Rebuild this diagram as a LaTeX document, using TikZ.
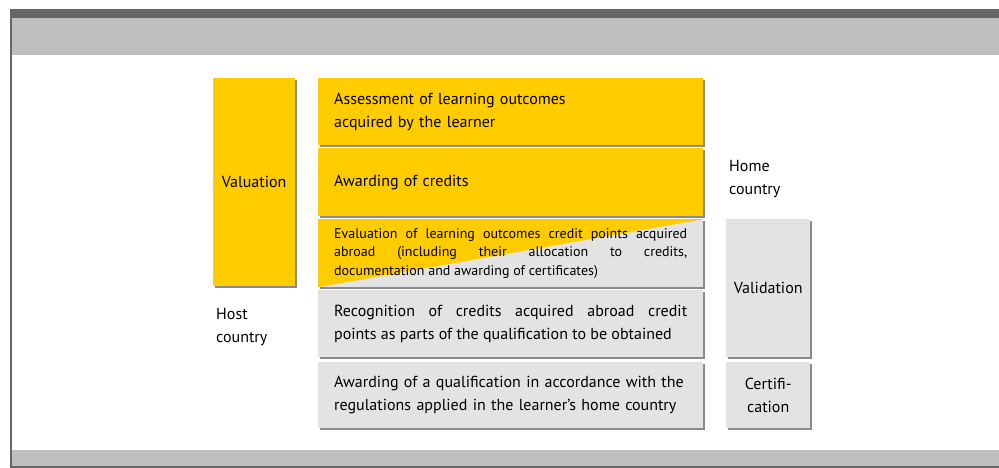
\documentclass[tikz,border=0pt]{standalone}
\usepackage{fontspec}
\setmainfont{PT Sans}
\usetikzlibrary{shadows}
\definecolor{valyellow}{HTML}{FFCC00}
\definecolor{boxgray}{HTML}{E3E3E3}
\definecolor{framedark}{HTML}{666666}
\definecolor{framelight}{HTML}{BFBFBF}
\definecolor{shadowgray}{HTML}{8A8A8A}
\tikzset{
  stagebox/.style={rectangle, anchor=north west, inner xsep=16pt, inner ysep=0pt,
    minimum width=385pt, text width=353pt,
    font=\fontsize{16}{23}\selectfont,
    drop shadow={shadow xshift=1.5pt, shadow yshift=-1.5pt, fill=shadowgray, opacity=1}},
  sidebox/.style={rectangle, anchor=north west, inner sep=0pt, align=center,
    minimum width=84pt, font=\fontsize{16}{23}\selectfont,
    drop shadow={shadow xshift=1.5pt, shadow yshift=-1.5pt, fill=shadowgray, opacity=1}},
  countrylabel/.style={anchor=west, inner sep=0pt, align=left, font=\fontsize{16}{23}\selectfont}
}
\begin{document}
\begin{tikzpicture}[x=1pt,y=-1pt]
\useasboundingbox (0,0) rectangle (999,468);

% frame
\fill[framedark] (10,9) rectangle (999,18);
\fill[framelight] (12,18) rectangle (999,55);
\fill[framedark] (10,9) rectangle (12,468);
\fill[framelight] (12,450) rectangle (999,466);
\fill[framedark] (10,466) rectangle (999,468);

% host country side
\node[sidebox, fill=valyellow, minimum width=82pt, minimum height=208pt] (valuation) at (213,78) {Valuation};
\node[countrylabel] (host) at (216,327) {Host\\country};

% steps
\node[stagebox, fill=valyellow, minimum height=67pt, align=left] (assess) at (318,78)
 {Assessment of learning outcomes\\acquired by the learner};
\node[stagebox, fill=valyellow, minimum height=68pt, align=left] (credits) at (318,148)
 {Awarding of credits};
\node[stagebox, fill=boxgray, minimum height=68pt, align=justify,
 font=\fontsize{14}{18.5}\selectfont,
 path picture={\fill[valyellow] (path picture bounding box.north west)
   -- (path picture bounding box.north east) -- (path picture bounding box.south west) -- cycle;}]
 (evaluation) at (318,219)
 {Evaluation of learning outcomes credit points acquired\linebreak
  abroad (including their allocation to credits,\linebreak
  documentation and awarding of certificates)};
\node[stagebox, fill=boxgray, minimum height=67pt, align=justify] (recognition) at (318,290)
 {Recognition of credits acquired abroad credit\linebreak
  points as parts of the qualification to be obtained};
\node[stagebox, fill=boxgray, minimum height=66pt, align=left] (qualification) at (318,362)
 {Awarding of a qualification in accordance with the\\
  regulations applied in the learner’s home country};

% home country side
\node[countrylabel] (home) at (729,179) {Home\\country};
\node[sidebox, fill=boxgray, minimum height=138pt] (validation) at (726,219) {Validation};
\node[sidebox, fill=boxgray, minimum height=66pt] (certification) at (726,362) {Certifi-\\cation};
\end{tikzpicture}
\end{document}
